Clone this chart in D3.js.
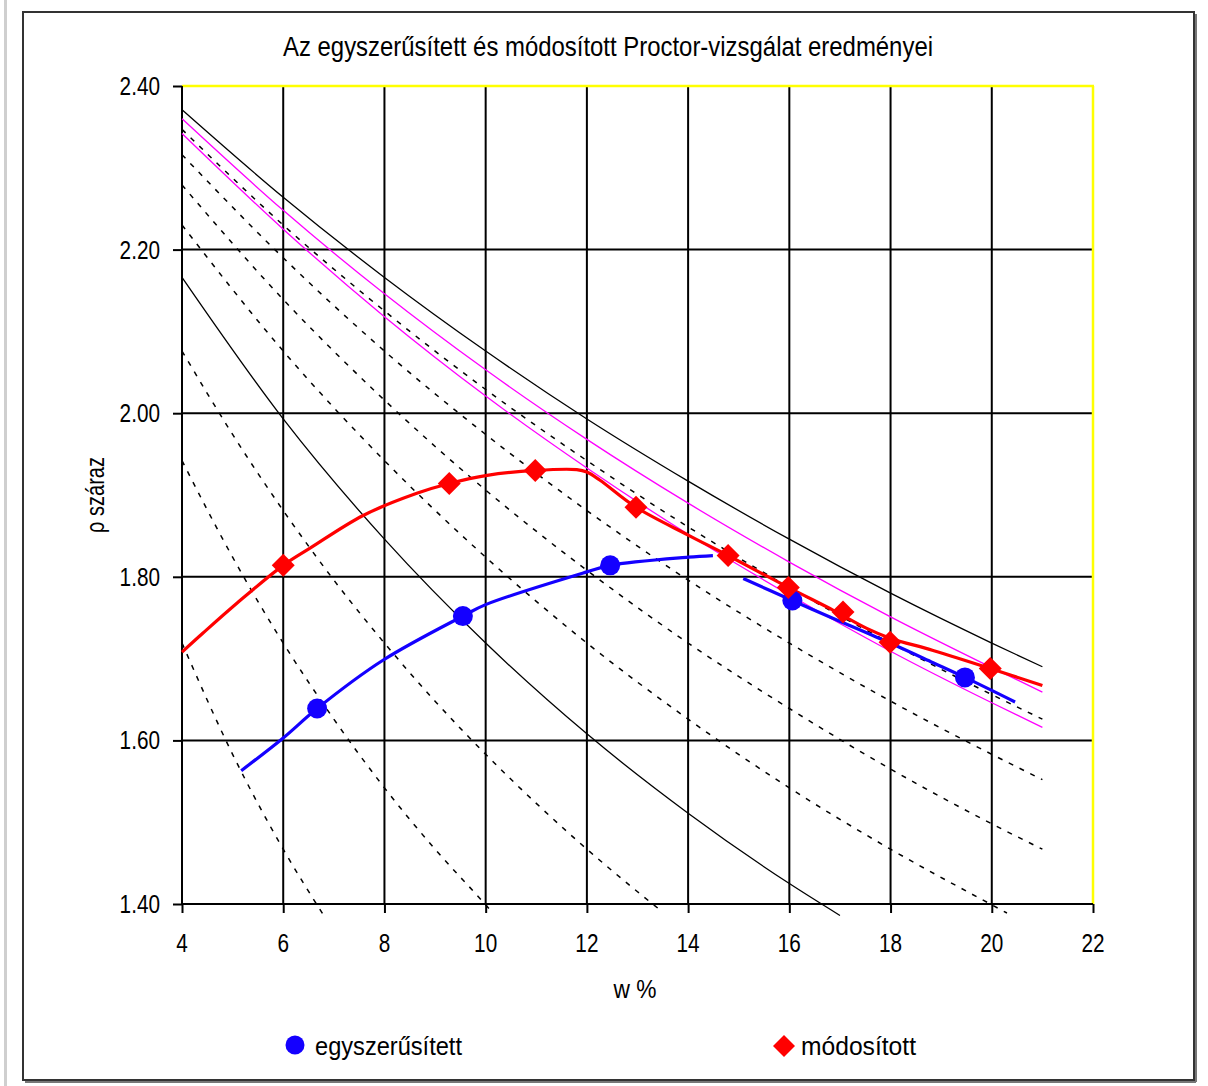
<!DOCTYPE html>
<html>
<head>
<meta charset="utf-8">
<script src="https://cdn.jsdelivr.net/npm/d3@7"></script>
<style>
html,body{margin:0;padding:0;background:#fff;}
svg{display:block;}
text{font-family:"Liberation Sans",Arial,sans-serif;fill:#000;}
</style>
</head>
<body>
<svg id="chart" width="1208" height="1086"></svg>
<script>
// ---------- data ----------
const title = "Az egyszerűsített és módosított Proctor-vizsgálat eredményei";
const xTitle = "w %";
const yTitle = "ρ száraz";
const xTicks = [4, 6, 8, 10, 12, 14, 16, 18, 20, 22];
const yTicks = [1.40, 1.60, 1.80, 2.00, 2.20, 2.40];
const seriesNames = ["egyszerűsített", "módosított"];

// measured points
const egyszW   = [6.67, 9.55, 12.46, 16.06, 19.47];
const egyszRho = [1.639, 1.752, 1.814, 1.771, 1.677];
const modW     = [6.0, 9.28, 10.98, 12.97, 14.79, 15.98, 17.06, 17.99, 19.97];
const modRho   = [1.814, 1.914, 1.930, 1.885, 1.826, 1.787, 1.757, 1.720, 1.688];

// fitted (smoothed) lines as drawn
const egyszRiseW   = [5.17, 6.0, 6.67, 7.97, 9.55, 10.0, 12.0, 12.46, 14.0, 14.49];
const egyszRiseRho = [1.563, 1.603, 1.639, 1.698, 1.752, 1.766, 1.806, 1.814, 1.824, 1.826];
const egyszFallW   = [15.09, 16.06, 16.87, 17.99, 18.84, 19.47, 20.46];
const egyszFallRho = [1.798, 1.771, 1.749, 1.719, 1.695, 1.677, 1.647];
const modLineW   = [4.0, 4.41, 5.09, 6.0, 6.53, 7.58, 8.64, 9.28, 10.03, 10.98, 11.8, 12.0, 12.26, 12.97, 14.0, 14.79, 15.98, 16.87, 17.53, 17.99, 18.84, 19.97, 21.0];
const modLineRho = [1.708, 1.731, 1.768, 1.814, 1.835, 1.875, 1.902, 1.914, 1.924, 1.930, 1.931, 1.928, 1.918, 1.885, 1.851, 1.826, 1.787, 1.759, 1.737, 1.725, 1.710, 1.688, 1.667];

// reference curves (saturation lines)
const wFull  = [4, 6, 8, 10, 12, 14, 16, 18, 20, 21];
const sr100  = [2.371, 2.264, 2.166, 2.076, 1.993, 1.917, 1.846, 1.780, 1.719, 1.690];
const pinkA  = [2.360, 2.248, 2.146, 2.053, 1.968, 1.890, 1.818, 1.751, 1.689, 1.659];
const pinkB  = [2.342, 2.225, 2.118, 2.021, 1.933, 1.852, 1.778, 1.709, 1.646, 1.616];
const sr90   = [2.347, 2.230, 2.125, 2.029, 1.942, 1.861, 1.787, 1.719, 1.656, 1.626];
const sr80   = [2.316, 2.190, 2.076, 1.974, 1.881, 1.796, 1.719, 1.648, 1.583, 1.552];
const sr70   = [2.279, 2.139, 2.016, 1.906, 1.808, 1.719, 1.639, 1.565, 1.498, 1.467];
const sr60W  = [4, 6, 8, 10, 12, 14, 16, 18, 20, 20.3];
const sr60   = [2.230, 2.076, 1.942, 1.824, 1.719, 1.626, 1.542, 1.467, 1.399, 1.389];
const sr50W  = [4, 6, 8, 10, 12, 14, 16, 17];
const sr50   = [2.166, 1.993, 1.846, 1.719, 1.608, 1.511, 1.425, 1.386];
const sr40W  = [4, 5, 6, 7, 8, 9, 10, 11, 12, 13, 13.5];
const sr40   = [2.076, 1.974, 1.881, 1.796, 1.719, 1.648, 1.583, 1.523, 1.467, 1.415, 1.390];
const sr30W  = [4, 5, 6, 7, 8, 9, 10, 10.1];
const sr30   = [1.942, 1.824, 1.719, 1.626, 1.542, 1.467, 1.399, 1.392];
const sr20W  = [4, 5, 6, 6.8];
const sr20   = [1.719, 1.583, 1.467, 1.386];

// ---------- drawing ----------
const svg = d3.select("#chart");
const X0 = 182, X1 = 1093, Y0 = 904, Y1 = 86;
const x = d3.scaleLinear().domain([4, 22]).range([X0, X1]);
const y = d3.scaleLinear().domain([1.4, 2.4]).range([Y0, Y1]);
const SX = 0.83;

// left gray strip of screenshot
svg.append("rect").attr("x", 4).attr("y", 0).attr("width", 3).attr("height", 1086).attr("fill", "#cfcfcf");

// outer frame with shadow
svg.append("line").attr("x1", 25).attr("x2", 1196).attr("y1", 1082).attr("y2", 1082).attr("stroke", "#777").attr("stroke-width", 2);
svg.append("line").attr("x1", 1196).attr("x2", 1196).attr("y1", 14).attr("y2", 1082).attr("stroke", "#777").attr("stroke-width", 2);
svg.append("rect").attr("x", 23).attr("y", 12).attr("width", 1171).attr("height", 1068)
  .attr("fill", "#fff").attr("stroke", "#333").attr("stroke-width", 2);

// title
svg.append("text").attr("x", 608).attr("y", 56).attr("text-anchor", "middle")
  .attr("font-size", 28).attr("textLength", 650).attr("lengthAdjust", "spacingAndGlyphs").text(title);

// grid
const grid = svg.append("g");
xTicks.filter(t => t > 4 && t < 22).forEach(t => {
  grid.append("line").attr("x1", x(t)).attr("x2", x(t)).attr("y1", Y1).attr("y2", Y0)
    .attr("stroke", "#000").attr("stroke-width", 2);
});
yTicks.filter(t => t > 1.4 && t < 2.4).forEach(t => {
  grid.append("line").attr("x1", X0).attr("x2", X1).attr("y1", y(t)).attr("y2", y(t))
    .attr("stroke", "#000").attr("stroke-width", 2);
});
// yellow border top/right
grid.append("line").attr("x1", X0).attr("x2", X1 + 1).attr("y1", Y1).attr("y2", Y1).attr("stroke", "#ffff00").attr("stroke-width", 2.5);
grid.append("line").attr("x1", X1).attr("x2", X1).attr("y1", Y1).attr("y2", Y0).attr("stroke", "#ffff00").attr("stroke-width", 2.5);

// axes (tick marks)
const axL = svg.append("g").attr("transform", `translate(${X0},0)`)
  .call(d3.axisLeft(y).tickValues(yTicks).tickSize(9).tickFormat(""));
const axB = svg.append("g").attr("transform", `translate(0,${Y0})`)
  .call(d3.axisBottom(x).tickValues(xTicks).tickSize(9).tickFormat(""));
[axL, axB].forEach(a => {
  a.select(".domain").attr("stroke", "#000").attr("stroke-width", 2);
  a.selectAll(".tick line").attr("stroke", "#000").attr("stroke-width", 2);
});
axB.select(".domain").attr("d", `M${X0},0H${X1}`);
axL.select(".domain").attr("d", `M0,${Y0}V${Y1}`);

// tick labels
yTicks.forEach(t => {
  svg.append("text").attr("transform", `translate(160,${y(t) + 9}) scale(${SX},1)`)
    .attr("text-anchor", "end").attr("font-size", 25).text(d3.format(".2f")(t));
});
xTicks.forEach(t => {
  svg.append("text").attr("transform", `translate(${x(t)},${952}) scale(${SX},1)`)
    .attr("text-anchor", "middle").attr("font-size", 25).text(t);
});

// axis titles
svg.append("text").attr("x", 635).attr("y", 998).attr("text-anchor", "middle")
  .attr("font-size", 25).attr("textLength", 43).attr("lengthAdjust", "spacingAndGlyphs").text(xTitle);
svg.append("text").attr("transform", "translate(104,495) rotate(-90)").attr("text-anchor", "middle")
  .attr("font-size", 25).attr("textLength", 76).attr("lengthAdjust", "spacingAndGlyphs").text(yTitle);

// curves
const lineGen = d3.line().x(d => x(d[0])).y(d => y(d[1])).curve(d3.curveMonotoneX);
const zip = (a, b) => a.map((v, i) => [v, b[i]]);
const curves = svg.append("g").attr("fill", "none");
function drawCurve(ws, rs, color, width, dash) {
  const p = curves.append("path").attr("d", lineGen(zip(ws, rs)))
    .attr("stroke", color).attr("stroke-width", width);
  if (dash) p.attr("stroke-dasharray", dash);
}
const DASH = "5,7";
drawCurve(wFull, sr90, "#000", 1.5, DASH);
drawCurve(wFull, sr80, "#000", 1.5, DASH);
drawCurve(wFull, sr70, "#000", 1.5, DASH);
drawCurve(sr60W, sr60, "#000", 1.5, DASH);
drawCurve(sr40W, sr40, "#000", 1.5, DASH);
drawCurve(sr30W, sr30, "#000", 1.5, DASH);
drawCurve(sr20W, sr20, "#000", 1.5, DASH);
drawCurve(sr50W, sr50, "#000", 1.3, null);
drawCurve(wFull, sr100, "#000", 1.3, null);
drawCurve(wFull, pinkA, "#ff00ff", 1.3, null);
drawCurve(wFull, pinkB, "#ff00ff", 1.3, null);

// series lines
const sLine = d3.line().x(d => x(d[0])).y(d => y(d[1])).curve(d3.curveCatmullRom.alpha(0.5));
svg.append("path").attr("d", sLine(zip(egyszRiseW, egyszRiseRho))).attr("fill", "none").attr("stroke", "#1400ff").attr("stroke-width", 3.2);
svg.append("path").attr("d", sLine(zip(egyszFallW, egyszFallRho))).attr("fill", "none").attr("stroke", "#1400ff").attr("stroke-width", 3.2);
svg.append("path").attr("d", sLine(zip(modLineW, modLineRho))).attr("fill", "none").attr("stroke", "#ff0000").attr("stroke-width", 3.2);

// markers
svg.append("g").selectAll("circle").data(zip(egyszW, egyszRho)).join("circle")
  .attr("cx", d => x(d[0])).attr("cy", d => y(d[1])).attr("r", 10).attr("fill", "#1400ff");
const diamond = s => `M0,${-s}L${s},0L0,${s}L${-s},0Z`;
svg.append("g").selectAll("path").data(zip(modW, modRho)).join("path")
  .attr("transform", d => `translate(${x(d[0])},${y(d[1])})`).attr("d", diamond(11.5)).attr("fill", "#ff0000");

// legend
svg.append("circle").attr("cx", 295).attr("cy", 1045).attr("r", 9.5).attr("fill", "#1400ff");
svg.append("text").attr("x", 315).attr("y", 1055).attr("font-size", 26)
  .attr("textLength", 147).attr("lengthAdjust", "spacingAndGlyphs").text(seriesNames[0]);
svg.append("path").attr("transform", "translate(784,1046)").attr("d", diamond(11)).attr("fill", "#ff0000");
svg.append("text").attr("x", 801).attr("y", 1055).attr("font-size", 26)
  .attr("textLength", 115).attr("lengthAdjust", "spacingAndGlyphs").text(seriesNames[1]);
</script>
</body>
</html>
